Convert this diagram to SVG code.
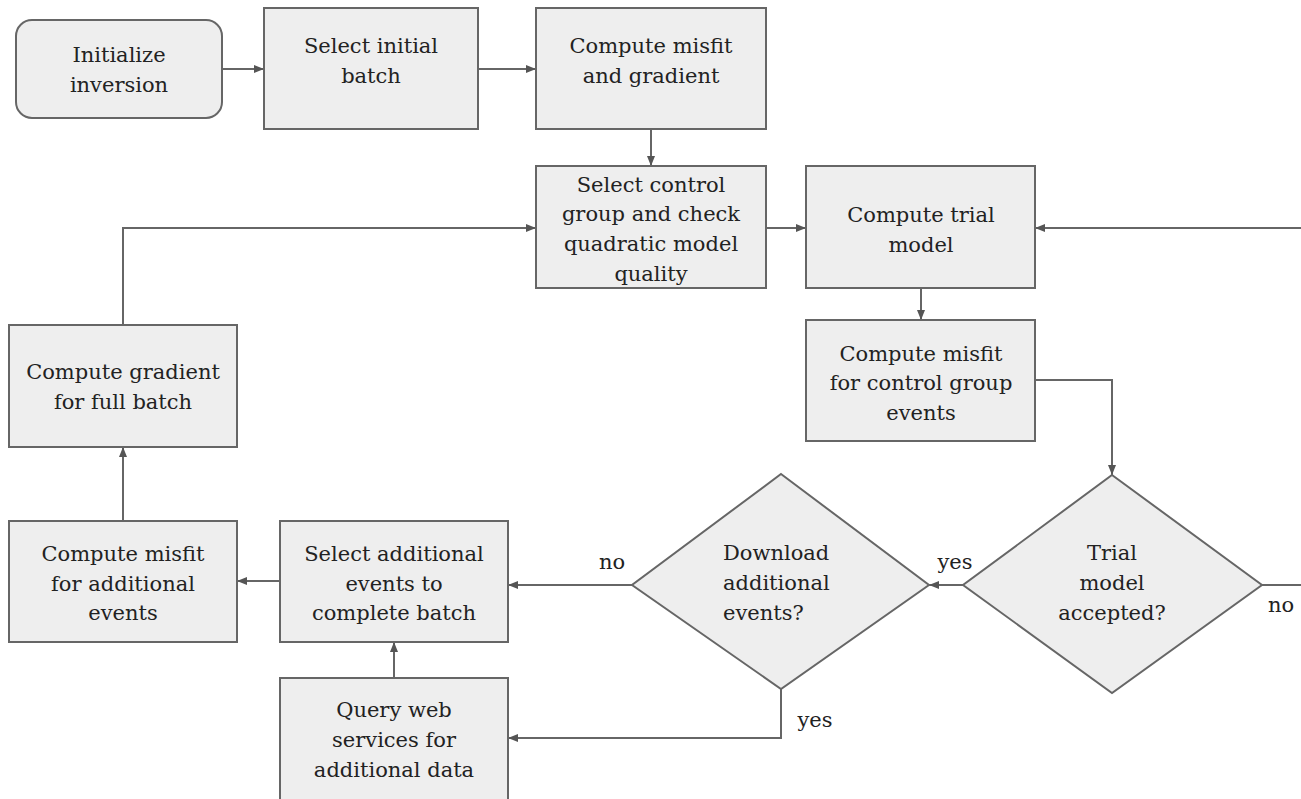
<svg xmlns="http://www.w3.org/2000/svg" width="1301" height="799" viewBox="0 0 1301 799">
<defs>
<style>
.box{fill:#eeeeee;stroke:#666666;stroke-width:2}
.t{font-family:"DejaVu Serif","Liberation Serif",serif;font-size:21px;fill:#222222;text-anchor:middle}
.tl{font-family:"DejaVu Serif","Liberation Serif",serif;font-size:21px;fill:#222222;text-anchor:start}
.c{fill:none;stroke:#666666;stroke-width:2}
</style>
<marker id="ah" viewBox="0 0 10 10" refX="10" refY="5" markerWidth="5" markerHeight="5" orient="auto" markerUnits="strokeWidth">
<path d="M0,1 L10,5 L0,9 z" fill="#555555"/>
</marker>
</defs>
<rect width="1301" height="799" fill="#ffffff"/>
<g id="connectors">
<path class="c" d="M222,69 H264" marker-end="url(#ah)"/>
<path class="c" d="M478,69 H536" marker-end="url(#ah)"/>
<path class="c" d="M651,129 V166" marker-end="url(#ah)"/>
<path class="c" d="M123,325 V228 H536" marker-end="url(#ah)"/>
<path class="c" d="M766,228 H806" marker-end="url(#ah)"/>
<path class="c" d="M1301,228 H1035" marker-end="url(#ah)"/>
<path class="c" d="M921,288 V320" marker-end="url(#ah)"/>
<path class="c" d="M1035,380 H1112 V475" marker-end="url(#ah)"/>
<path class="c" d="M963,585 H929" marker-end="url(#ah)"/>
<path class="c" d="M1262,585 H1301"/>
<path class="c" d="M632,585 H508" marker-end="url(#ah)"/>
<path class="c" d="M280,581 H237" marker-end="url(#ah)"/>
<path class="c" d="M123,521 V447" marker-end="url(#ah)"/>
<path class="c" d="M781,689 V738 H508" marker-end="url(#ah)"/>
<path class="c" d="M394,678 V642" marker-end="url(#ah)"/>
<text class="t" x="955" y="569">yes</text>
<text class="t" x="612" y="569">no</text>
<text class="t" x="815" y="727">yes</text>
<text class="t" x="1281" y="612">no</text>
</g>
<g id="init">
<rect class="box" x="16" y="20" width="206" height="98" rx="16"/>
<text class="t" x="119" y="62">Initialize</text>
<text class="t" x="119" y="92">inversion</text>
</g>
<g id="select-initial">
<rect class="box" x="264" y="8" width="214" height="121"/>
<text class="t" x="371" y="53">Select initial</text>
<text class="t" x="371" y="83">batch</text>
</g>
<g id="compute-misfit-gradient">
<rect class="box" x="536" y="8" width="230" height="121"/>
<text class="t" x="651" y="53">Compute misfit</text>
<text class="t" x="651" y="83">and gradient</text>
</g>
<g id="select-control">
<rect class="box" x="536" y="166" width="230" height="122"/>
<text class="t" x="651" y="192">Select control</text>
<text class="t" x="651" y="221">group and check</text>
<text class="t" x="651" y="251">quadratic model</text>
<text class="t" x="651" y="281">quality</text>
</g>
<g id="compute-trial">
<rect class="box" x="806" y="166" width="229" height="122"/>
<text class="t" x="921" y="222">Compute trial</text>
<text class="t" x="921" y="252">model</text>
</g>
<g id="compute-misfit-control">
<rect class="box" x="806" y="320" width="229" height="121"/>
<text class="t" x="921" y="361">Compute misfit</text>
<text class="t" x="921" y="390">for control group</text>
<text class="t" x="921" y="420">events</text>
</g>
<g id="compute-gradient-full">
<rect class="box" x="9" y="325" width="228" height="122"/>
<text class="t" x="123" y="379">Compute gradient</text>
<text class="t" x="123" y="409">for full batch</text>
</g>
<g id="compute-misfit-additional">
<rect class="box" x="9" y="521" width="228" height="121"/>
<text class="t" x="123" y="561">Compute misfit</text>
<text class="t" x="123" y="591">for additional</text>
<text class="t" x="123" y="620">events</text>
</g>
<g id="select-additional">
<rect class="box" x="280" y="521" width="228" height="121"/>
<text class="t" x="394" y="561">Select additional</text>
<text class="t" x="394" y="591">events to</text>
<text class="t" x="394" y="620">complete batch</text>
</g>
<g id="query-web">
<rect class="box" x="280" y="678" width="228" height="124"/>
<text class="t" x="394" y="717">Query web</text>
<text class="t" x="394" y="747">services for</text>
<text class="t" x="394" y="777">additional data</text>
</g>
<g id="download-decision">
<polygon class="box" points="781,474 929,585 781,689 632,585"/>
<text class="tl" x="723" y="560">Download</text>
<text class="tl" x="723" y="590">additional</text>
<text class="tl" x="723" y="620">events?</text>
</g>
<g id="trial-decision">
<polygon class="box" points="1112,475 1262,585 1112,693 963,585"/>
<text class="t" x="1112" y="560">Trial</text>
<text class="t" x="1112" y="590">model</text>
<text class="t" x="1112" y="620">accepted?</text>
</g>
</svg>
